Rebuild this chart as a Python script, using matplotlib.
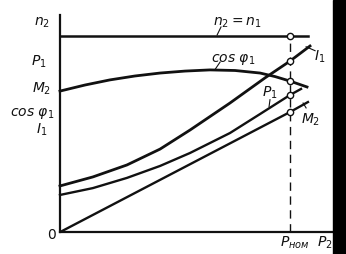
import matplotlib.pyplot as plt
from matplotlib.patches import Rectangle

# load P2 as fraction of rated power (P_nom = 1)
p2_n2 = [0.0, 1.078]
n2 = [1.0, 1.0]

p2_i1 = [0.0, 0.143, 0.291, 0.435, 0.565, 0.739, 0.891, 1.0, 1.087]
i1 = [0.235, 0.281, 0.342, 0.423, 0.520, 0.658, 0.786, 0.872, 0.949]

p2_cos = [0.0, 0.109, 0.217, 0.326, 0.435, 0.543, 0.652, 0.761, 0.870, 0.935, 1.0, 1.074]
cos_phi = [0.719, 0.750, 0.776, 0.796, 0.811, 0.821, 0.827, 0.824, 0.811, 0.793, 0.770, 0.740]

p2_p1 = [0.0, 0.143, 0.291, 0.435, 0.565, 0.739, 0.870, 1.0, 1.048]
p1 = [0.189, 0.224, 0.276, 0.337, 0.403, 0.505, 0.602, 0.699, 0.730]

p2_m2 = [0.009, 1.0, 1.078]
m2 = [0.005, 0.612, 0.663]

p_nom = 1.0
rated = [1.0, 0.872, 0.770, 0.699, 0.612]  # n2, I1, cos, P1, M2 at P_nom

fig = plt.figure(figsize=(3.46, 2.54), dpi=100)
ax = fig.add_axes([0, 0, 1, 1])
ax.set_xlim(-0.26087, 1.24348)
ax.set_ylim(-0.11224, 1.18367)
ax.axis('off')

k = '#111111'
# axes
ax.plot([0, 0], [0, 1.107], color=k, lw=1.6)
ax.plot([0, 1.187], [0, 0], color=k, lw=1.6)

ax.plot(p2_n2, n2, color=k, lw=1.8)
ax.plot(p2_i1, i1, color=k, lw=2.0)
ax.plot(p2_cos, cos_phi, color=k, lw=2.0)
ax.plot(p2_p1, p1, color=k, lw=1.7)
ax.plot(p2_m2, m2, color=k, lw=1.7)

ax.plot([p_nom, p_nom], [0, 1.0], color=k, lw=1.0, dashes=(6, 4))
ax.plot([p_nom] * len(rated), rated, 'o', ms=4.5, mfc='white', mec=k, mew=1.0)

fs = 10
st = dict(fontsize=fs, color=k, ha='center', va='center', style='italic')
# y-axis labels
ax.text(-0.078, 1.066, r'$n_2$', **st)
ax.text(-0.091, 0.867, r'$P_1$', **st)
ax.text(-0.078, 0.730, r'$M_2$', **st)
ax.text(-0.122, 0.607, r'$cos\ \varphi_1$', **st)
ax.text(-0.078, 0.520, r'$I_1$', **st)
ax.text(-0.035, -0.015, r'$0$', **st)

# curve labels with leaders
ax.text(0.770, 1.066, r'$n_2 = n_1$', **st)
ax.plot([0.683, 0.700], [1.005, 1.046], color=k, lw=0.8)
ax.text(0.752, 0.878, r'$cos\ \varphi_1$', **st)
ax.plot([0.674, 0.696], [0.829, 0.867], color=k, lw=0.8)
ax.text(1.130, 0.893, r'$I_1$', **st)
ax.plot([1.070, 1.109], [0.945, 0.925], color=k, lw=0.8)
ax.text(0.913, 0.712, r'$P_1$', **st)
ax.plot([0.913, 0.909], [0.675, 0.640], color=k, lw=0.8)
ax.text(1.090, 0.571, r'$M_2$', **st)
ax.plot([1.057, 1.070], [0.658, 0.633], color=k, lw=0.8)

ax.text(1.022, -0.055, r'$P_{ном}$', **st)
ax.text(1.152, -0.055, r'$P_2$', **st)

# dark scan edge on the right
fig.patches.append(Rectangle((333 / 346, 0), 13 / 346, 1, transform=fig.transFigure,
                             color='black', zorder=10))

fig.savefig('out.png', dpi=100)
